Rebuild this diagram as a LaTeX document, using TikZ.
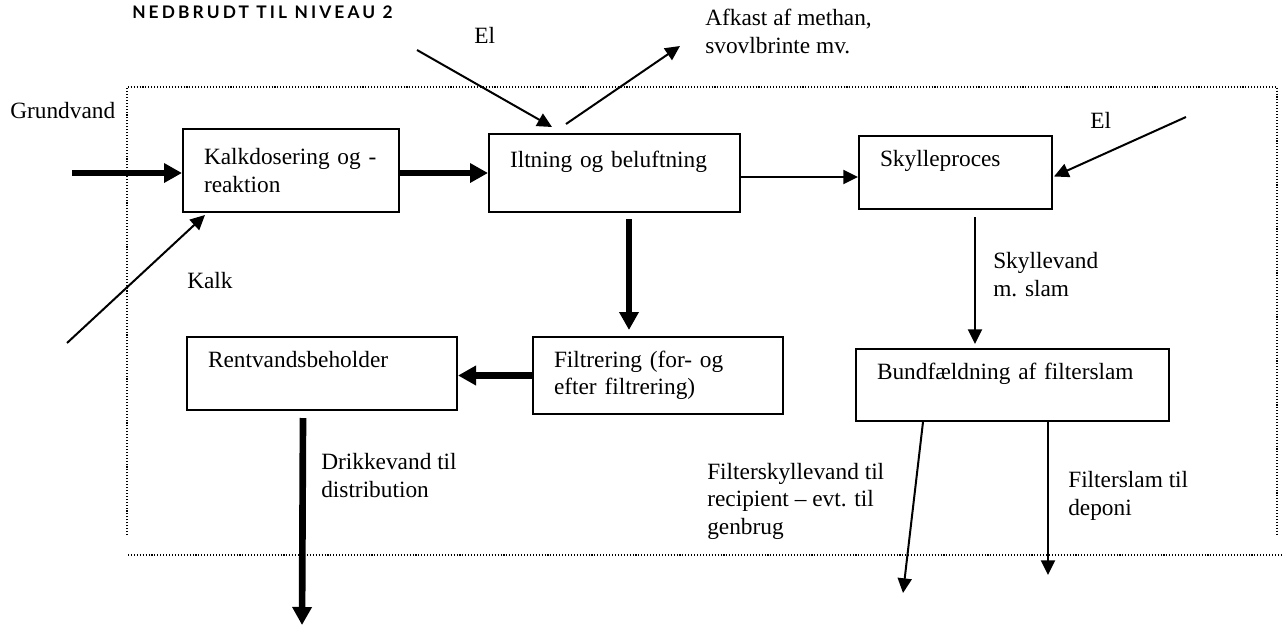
\documentclass[tikz,border=0pt]{standalone}
\usepackage{fontspec}
\setmainfont{Liberation Serif}
\newfontfamily\titlefont[LetterSpace=18]{Lato}
\usetikzlibrary{arrows.meta,calc}

\begin{document}
\begin{tikzpicture}[x=0.75pt,y=-0.75pt,
  every node/.style={font=\fontsize{17.5}{20.5}\selectfont},
  procbox/.style={draw, line width=1.5pt, anchor=north west,
    inner xsep=15.75pt, inner ysep=0pt, align=left},
  lbl/.style={anchor=base west, inner sep=0pt, align=left},
  flow/.style={line width=1.5pt, -{Triangle[length=11pt,width=10.5pt]}},
  heavy/.style={line width=5pt, -{Triangle[length=13.5pt,width=14pt]}},
  border/.style={line width=0.8pt, dash pattern=on 0.8pt off 1.4pt}
]
\useasboundingbox (0,0) rectangle (1282,626);

% system boundary and lower limit
\draw[border] (127,535) -- (127,87) -- (1277,87) -- (1277,535);
\draw[border] (128,555) -- (1282,555);

% heading
\node[lbl, font=\titlefont\fontsize{13}{15}\selectfont\bfseries] (title) at (132,18) {NEDBRUDT TIL NIVEAU 2};

% process boxes
\node[procbox, minimum width=162pt, minimum height=62.25pt, text width=130.5pt] (kalk) at (182,128)
  {\mbox{Kalkdosering og -}\\reaktion};
\node[procbox, minimum width=188.25pt, minimum height=58.5pt, text width=156.75pt] (ilt) at (488,133)
  {\mbox{Iltning og beluftning}\\\mbox{}};
\node[procbox, minimum width=144.75pt, minimum height=54.75pt, text width=113.25pt] (sky) at (858,135)
  {Skylleproces\\\mbox{}};
\node[procbox, minimum width=202.5pt, minimum height=54.75pt, text width=171pt] (rent) at (186,336)
  {Rentvandsbeholder\\\mbox{}};
\node[procbox, minimum width=187.5pt, minimum height=57.75pt, text width=156pt] (filt) at (532,336)
  {\mbox{Filtrering (for- og}\\efter filtrering)};
\node[procbox, minimum width=234.75pt, minimum height=54pt, text width=203.25pt] (bund) at (855,348)
  {\mbox{Bundfældning af filterslam}\\\mbox{}};

% labels (multi-line labels are placed by the baseline of their last line)
\node[lbl] (tgrund) at (10,118) {Grundvand};
\node[lbl] (tel1) at (474,43) {El};
\node[lbl] (tafk) at (705,53) {Afkast af methan,\\svovlbrinte mv.};
\node[lbl] (tel2) at (1090,128) {El};
\node[lbl] (tkalk) at (187,288) {Kalk};
\node[lbl] (tskyl) at (993,296) {Skyllevand\\m. slam};
\node[lbl] (tdrik) at (321,497) {Drikkevand til\\distribution};
\node[lbl] (tfsv) at (707,534) {Filterskyllevand til\\recipient – evt. til\\genbrug};
\node[lbl] (tfsl) at (1068,515) {Filterslam til\\deponi};

% free ends of connectors
\coordinate (gin) at (72,173);
\coordinate (el1) at (417,50);
\coordinate (afk) at (680,46);
\coordinate (el2) at (1186,117);
\coordinate (kin) at (67,343);
\coordinate (drink) at (302,625);
\coordinate (out1) at (903,593);
\coordinate (out2) at (1048,575);

% main water line
\draw[heavy] (gin) -- (gin -| kalk.west);
\draw[heavy] (kalk.east |- gin) -- (ilt.west |- gin);
\coordinate (ia) at ([yshift=-3pt]ilt.east);
\draw[flow] (ia) -- (ia -| sky.west);
\coordinate (ib) at ($(ilt.south)+(14.5,6)$);
\draw[heavy] (ib) -- ($(ib |- filt.north)+(0,-6)$);
\draw[heavy] (filt.west) -- (filt.west -| rent.east);
\coordinate (rb) at ($(rent.south)+(-19,7)$);
\draw[heavy] (rb) -- (drink);

% inputs and outputs
\draw[flow] (el1) -- ($(ilt.north west)+(64,-6)$);
\draw[flow] ($(ilt.north west)+(78,-9)$) -- (afk);
\draw[flow] (el2) -- ($(sky.east)+(1,4)$);
\draw[flow] (kin) -- ($(kalk.south west)+(23,2)$);

% rinsing line
\coordinate (sb) at ($(sky.south)+(19.5,7)$);
\draw[flow] (sb) -- ($(sb |- bund.north)+(0,-4)$);
\draw[flow] ($(bund.south west)+(68,0)$) -- (out1);
\draw[flow] ($(bund.south west)+(193,0)$) -- (out2);
\end{tikzpicture}
\end{document}
